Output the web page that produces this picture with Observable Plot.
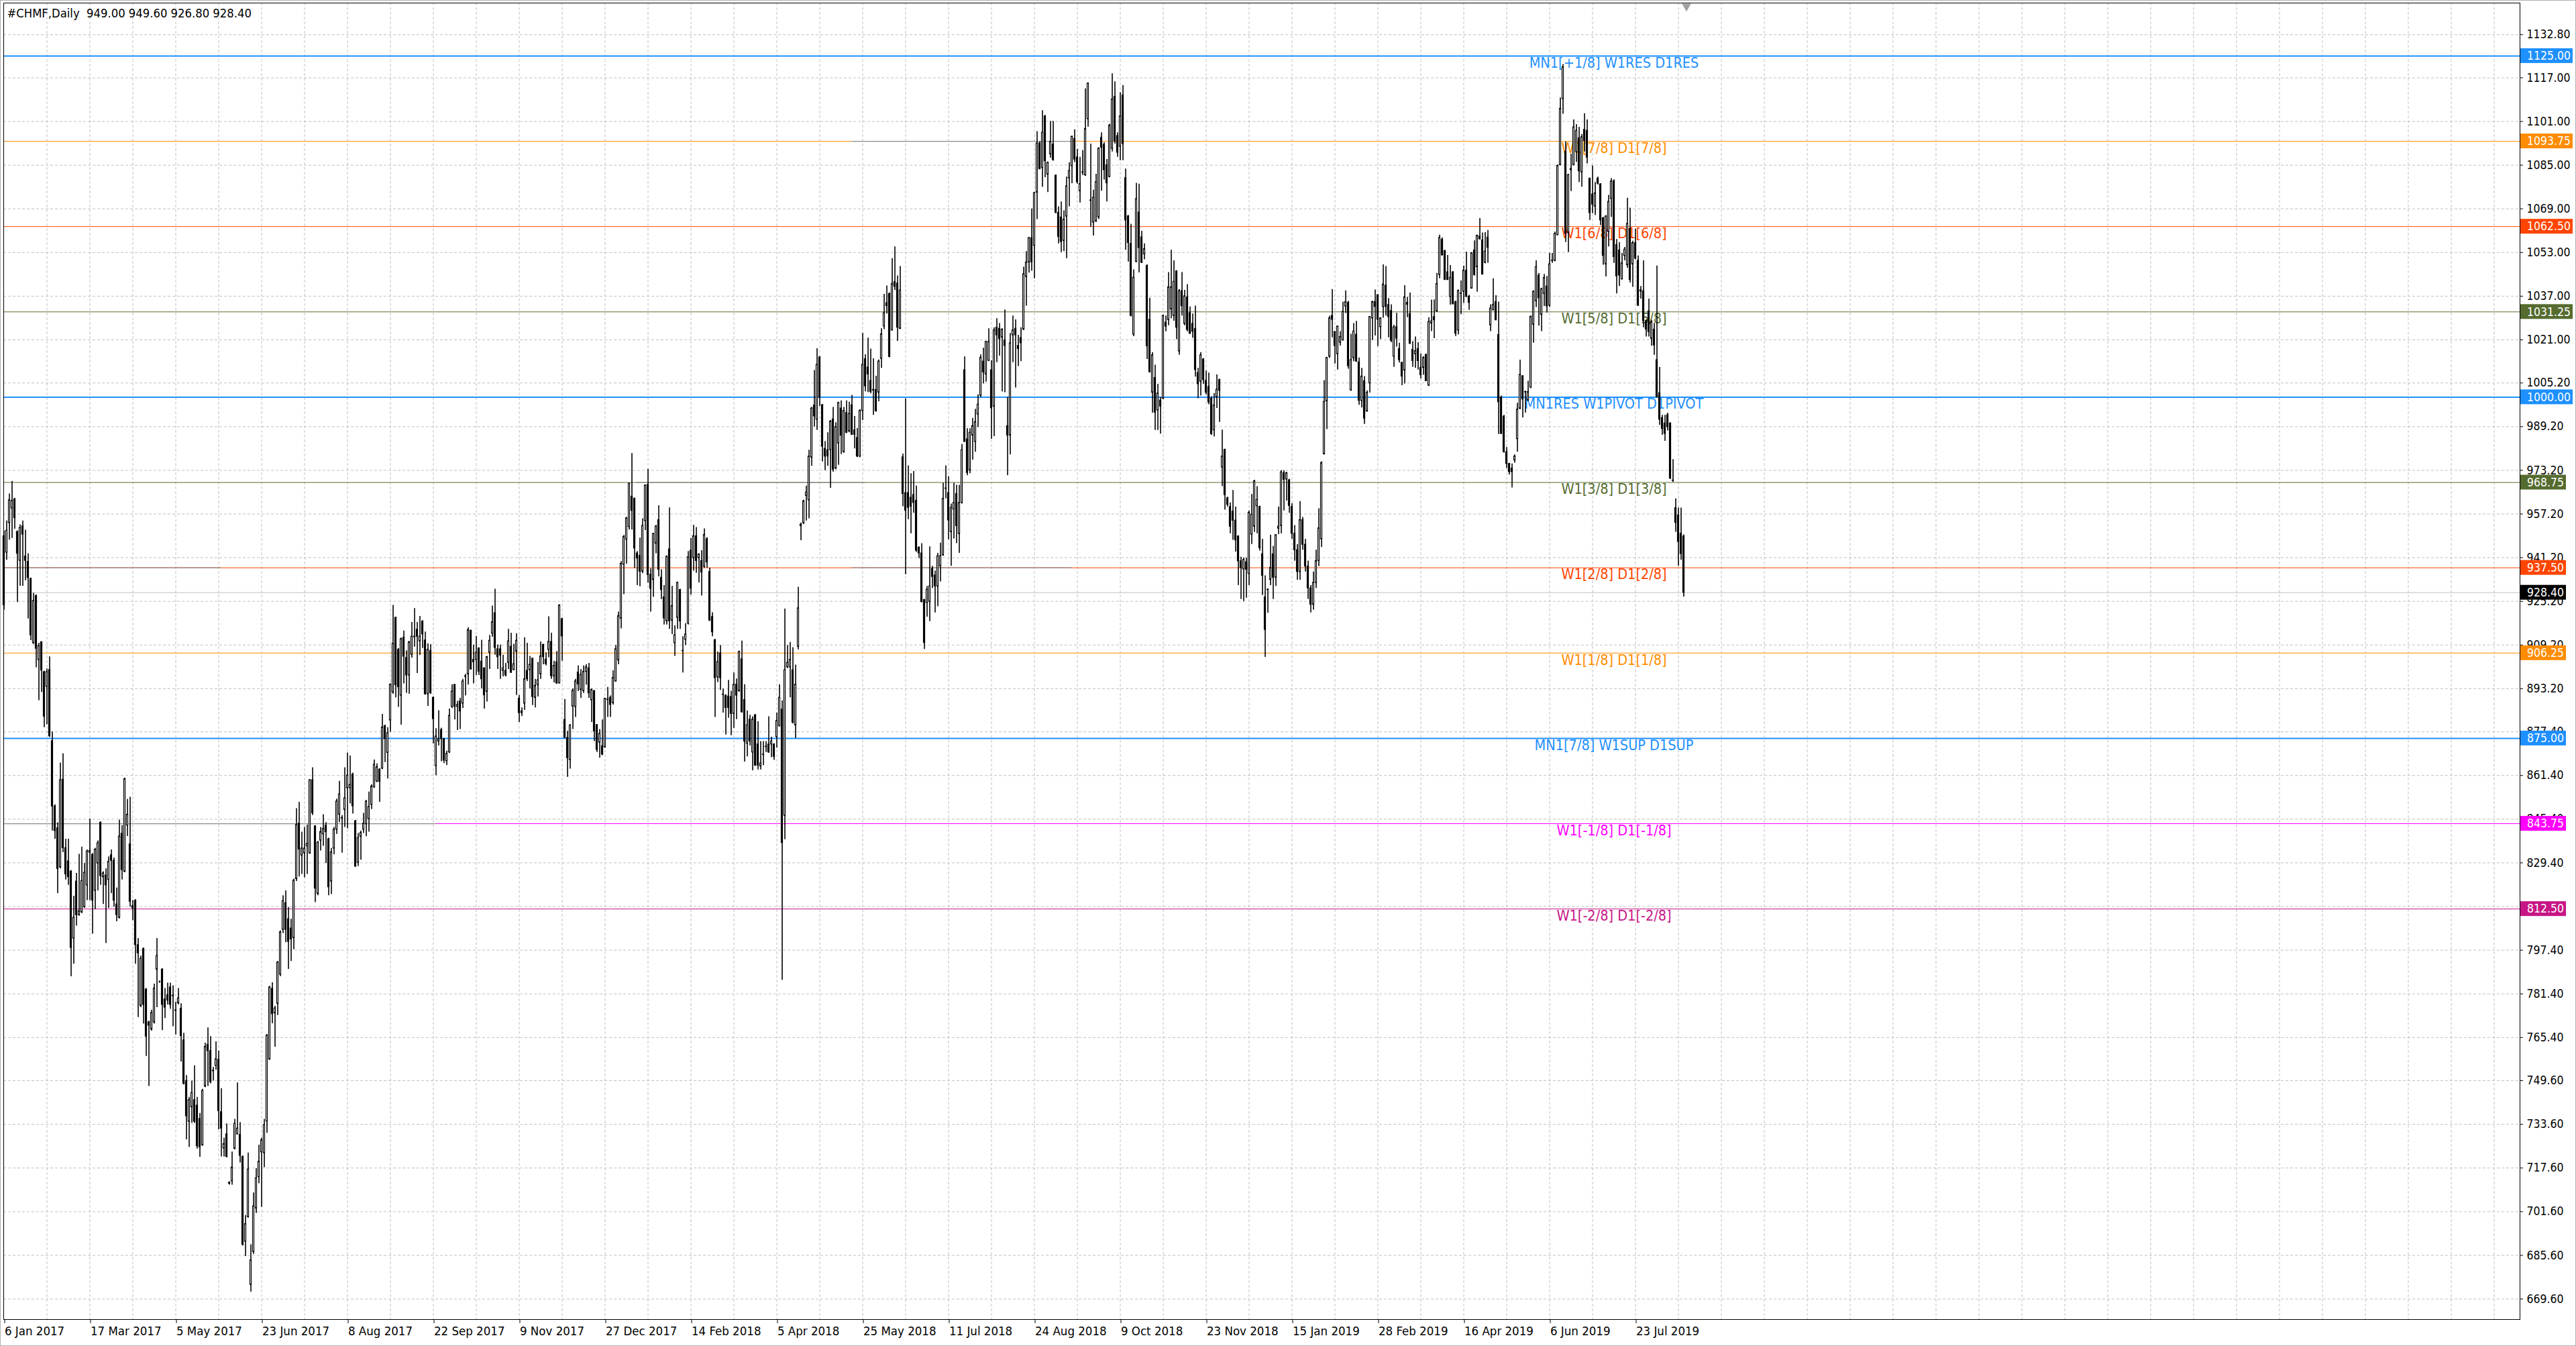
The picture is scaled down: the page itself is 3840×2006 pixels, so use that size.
<!DOCTYPE html>
<html><head><meta charset="utf-8">
<script src="https://cdn.jsdelivr.net/npm/d3@7"></script>
<script src="https://cdn.jsdelivr.net/npm/@observablehq/plot@0.6"></script>
<style>
html,body{margin:0;padding:0;background:#fff;overflow:hidden;}
#chart svg{display:block;outline:1px solid #b0b0b0;outline-offset:-1px;}
</style></head><body><div id="chart"></div>
<script>
const title = "#CHMF,Daily  949.00 949.60 926.80 928.40";

const opens = [949.1,943.1,953.9,959.3,962.6,950.7,940.1,952.7,941.7,939.7,
933.4,909.9,927.2,903.7,910.3,899.3,893.9,900.1,874,850.1,
842.1,827.8,859.9,834.8,830,826.2,801.7,822.6,810.3,811.3,
813.2,821.2,833.2,832.4,819.2,829.2,844.1,824.2,824.8,823.2,
832.2,830.2,814.2,809.3,840.1,826.2,843.1,836.2,813.6,815.6,
799.3,777,797.9,783,771,768.4,771,790.3,785.8,790.3,
779.4,781,783.8,780.8,775.4,778,776,764.4,749.5,734.6,
739.9,742.5,740.5,735.6,726,747.5,762.8,760.5,753.1,755.1,
757.3,738.1,724.8,730,712.2,712.8,724.7,730,729.8,721.7,
690.7,699.7,674.8,686.9,702.8,714.3,723.4,723.1,734.7,757.4,
783.3,774.3,777.8,788.5,804.9,814.7,808.8,805.4,801.9,823.5,
843.8,832.1,832.9,835.5,832.9,859.7,842.8,818.1,837.6,839.9,
843,838.1,822.6,834.7,841.6,847.1,845.9,848.8,856.8,856.8,
861.8,844.7,829.5,839,841.6,843.6,845.5,850.7,857.1,859.3,
863.6,864,879.5,869.7,881.6,891.9,919.2,907.5,890.7,911.9,
904.5,898.1,905.7,912.3,914.9,910.6,917.8,910.9,891.2,907.1,
889.9,864.9,873.9,878.1,874.8,866.7,869.9,886.6,894.6,886.6,
888.6,887.8,897.8,898.5,914.5,903.8,903.8,908,903.2,900.7,
892.1,906.4,913.4,920.9,907.7,907.7,899.8,899.8,902.7,908.6,
900.1,906.8,889.6,884.9,887.8,899.8,900,904.2,889.9,894.6,
898.5,909.3,903.9,907.5,910.4,897.8,902.9,895.2,918.7,881.8,
875.2,867.1,886.7,886.6,899.2,892.8,892.4,899.4,900.7,889,
892.4,879.9,873.5,872.2,871.7,889.3,889.9,888,895.9,903.6,
918.9,938.7,947.8,952.5,963.6,962.9,942.8,941.9,936.1,954.7,
967.9,935,933.1,946.4,955,933.9,926.7,917.9,944.3,918.2,
909.9,919.2,929.4,907,911.2,917.1,943.8,941.1,949.1,941.1,
940,937.9,948,936,919.5,911,897.4,906.2,891,890.7,
890.4,890.2,884,894.7,892.3,904,889.1,873.1,881.9,869.9,
883.5,872.8,864.8,869.1,872,872.8,872.8,872.8,875.5,879.5,
885.6,846.7,901.1,901.1,900,879.8,908.6,952.8,953.9,963.9,
962.3,977.9,997,991.8,1014.6,997.1,981.1,980.6,980.7,991.9,
973.9,983.1,995.9,979.9,994.3,987.5,997.1,987.9,985.1,978.3,
995,1014,1010.9,1006,1002.7,1002.7,1001.7,1014.1,1026,1034.5,
1037.9,1024.5,1042.2,1041.7,1025.1,978,964.9,964.9,963.2,964.2,
962.1,944.9,942.8,925.7,924.7,925,937.1,934.7,930.7,938.1,
942.1,966.6,964.9,950.6,958.9,964.6,949.9,961.3,1009.9,984.6,
973.2,986,983.7,993.7,1000.6,1013.1,1008.4,1013.4,1009.9,996.6,
1025.5,1025.1,1021.9,1020.8,989.4,986,1022.7,1025.1,1018.8,1021.7,
1024.8,1044.1,1049.4,1058.3,1055.5,1075,1093,1084,1102.9,1081.6,
1089,1092.6,1081.2,1067.6,1065.9,1057.3,1066.2,1080.2,1084.7,1094.7,
1087.9,1075.5,1082.4,1081.3,1101.9,1072.1,1064,1064.4,1065.9,1095.1,
1092.5,1085,1080.7,1091.1,1110.1,1095.7,1091.8,1110.6,1080.3,1066.3,
1056.2,1023,1049.6,1067.7,1058.6,1052.4,1048.1,1028.4,1001.7,1007.1,
995.2,998.8,999.5,1027.3,1028.3,1032.2,1029.8,1046.1,1016.8,1038.9,
1026.9,1036.6,1030.8,1026.9,1025,1008.9,1005.7,1013.9,1006,1003.8,
999.5,987.9,1000,1006.3,974.3,980.7,963,959.8,958.1,954.8,
949,939.9,937,939.6,935.3,949.7,952.6,960.1,959.8,942.5,
926.7,929.5,933.1,942.5,933.9,951.9,952.9,972.2,969.9,969.6,
959.8,950,944,936,955,946,938,930,924,932,
940,948,979.1,998.5,1014.9,1029.8,1023.9,1015.8,1020,1020.8,
1033.3,1034.6,1002.6,1014.3,1022.9,1012.8,998.7,1005.9,994.8,1005.1,
1028.9,1034.9,1037.4,1025.7,1033.1,1040.9,1033.8,1031.6,1014.9,1025.7,
1017.7,1012.6,1009.8,1034.6,1030.5,1017.4,1015.8,1017.7,1010.8,1010.8,
1015.5,1004.3,1027,1029.4,1031.5,1044.8,1057.7,1053.6,1045.8,1036.8,
1045.8,1034.9,1024.5,1038,1038.7,1046.4,1036.8,1039.8,1053.8,1047.7,
1058.9,1057.5,1049.3,1058.5,1026.4,1031.9,1034.9,1022.8,999.9,992.9,
979.9,975.6,973.9,976.9,984.7,995.8,1007.7,1001.9,998.8,1003.6,
1026.6,1035.2,1044.6,1030.2,1037.9,1040.6,1033.6,1050,1050,1059.4,
1085.1,1109.3,1089.9,1060.2,1083.2,1085.1,1089.9,1094.9,1082.4,1098,
1097.6,1080.1,1074.3,1069.9,1080.1,1078,1065.6,1048.7,1060.5,1072.7,
1079.1,1055.8,1053.8,1043.2,1051.8,1048.4,1061.6,1048.7,1056.5,1050,
1039.2,1038.9,1027.9,1031.5,1021.4,1024.8,1013.6,1001.5,992.4,990.4,
993.4,990.4,969.5,959.4,956.7,950,949];

const highs = [951,954.7,964.6,969.2,963,951,953.3,954.7,951.3,942.7,
933.8,928.2,927.6,909.9,910.3,899.7,900.5,904.9,877.4,850.7,
844.1,866,869.4,838.1,838.1,826.6,817.2,825.6,832.6,835.2,
829.2,834.2,845.5,832.8,834.8,837.5,844.5,826.2,827.2,831.6,
834.2,831.2,820.2,845.1,843.1,860.5,852.7,853.5,815.6,816,
801.7,795.3,798.3,783.4,771.4,775.4,785,801.7,786.2,790.7,
783.4,785.4,785.4,784.4,778.4,783.4,777.8,767,751.5,743.5,
749.5,755.1,743.5,737.6,746.5,763.4,769,765.8,754.5,763.9,
760.5,746.7,728.6,733.8,712.6,723.5,735.5,748.8,734.3,722.1,
700.2,723.1,689.5,708.5,717.4,726,728.6,735.5,766.6,784.2,
785.5,776.9,793.3,804.5,817.4,819.2,813.1,808.8,823.5,849.3,
851.6,840.7,842.4,843.3,860,864.3,843.1,837.3,842.4,847.1,
844.2,838.5,834.7,842.4,852.8,859.3,846.8,864.3,869.7,868.6,
862.3,845,840.2,841.1,847.6,852.3,855.4,858,867.1,865.7,
864,883.8,879.9,879,895,923.8,919.5,908,911.8,914.4,
907.1,910.6,917.5,922.6,917.5,919.7,918.2,914,909.7,909.4,
890.2,878.6,885.2,878.8,875,870.4,885.8,894.7,894.8,888.6,
889.7,896.7,898.5,915.6,914.6,909.2,912.4,908.2,911,900.9,
905.1,912.8,923.5,929.7,909.3,909.2,905.5,902.5,915,913.6,
909.5,913.4,890.8,886.2,911.9,909.9,905.1,904.5,896.7,902.9,
910.4,909.5,906.4,919.6,913.6,903.3,906.8,924,919.1,889.3,
877.6,880.1,893.2,896.7,901.6,900.3,901.6,902,902.5,893.2,
892.5,880.1,878.3,881.8,889.7,893.7,890.6,899.8,909,921.3,
939.8,949.4,956,968.6,979.4,963,943.5,948.4,955.5,967.9,
973.6,937.1,950.2,953.1,960.3,936.8,931,941.9,959.5,930.7,
916.3,932.3,929.7,912.3,917.1,943.5,948.3,953.1,952.3,942.7,
943.8,951.8,948.6,937.4,921.1,911.3,906.7,909.1,893.1,891,
896.3,892.3,899,896.8,907,910.7,894.7,885.1,883.5,883,
883.8,881.1,873.9,873.9,873.9,883,875.5,873.1,884.3,894.7,
888.8,922.4,909.1,910.2,908.3,901.9,930.4,953.9,962.3,967.5,
980.6,996.3,1009.8,1017.8,1014.9,997.4,983.8,987,991.5,996.3,
990.7,998.2,998.7,996.3,998.7,998.2,1000.7,993,988.6,995.5,
1023.4,1015.6,1021.7,1017.7,1014.1,1007.7,1013.7,1025.1,1037.7,1040.8,
1038.2,1050.8,1055.1,1044.5,1047.9,979.2,999.4,974.9,972,972.8,
967.5,945.2,946.4,926,930.7,945.2,938.1,936.4,942.8,946.6,
968.5,974.9,970.9,960.9,968.5,967.8,967.8,982.7,1014.8,988.5,
988.5,992.3,995.6,1000.9,1015.5,1018,1020.5,1025.1,1013.4,1025.5,
1028.8,1027,1025.1,1032,999.9,1023.4,1029.8,1028.4,1022.7,1025.5,
1047.7,1053.4,1058.6,1069,1075,1097.3,1093.6,1105,1103.3,1086.2,
1101.1,1101.1,1081.5,1069.8,1071.6,1068.3,1080.7,1085.9,1095.7,1098,
1090.8,1087.9,1090.4,1113,1115.2,1092.8,1075.9,1081.7,1091.4,1096.9,
1093.3,1087.1,1100,1118.5,1115.6,1096.9,1111.6,1114.2,1083.6,1066.6,
1063.4,1046.7,1078.4,1078.1,1060.8,1056.2,1048.5,1036.3,1016.4,1011.8,
1004.8,999.9,1030.1,1029.8,1045.7,1053.9,1050,1046.4,1039.5,1045.7,
1039.2,1041.3,1033.1,1030.5,1033.4,1010.6,1016.4,1014.2,1009.6,1008.9,
1000.2,1001.4,1008.2,1006.7,988,981,963.4,961.3,965.9,959.8,
949.3,941.4,941.1,941.1,958.4,964.4,969.6,967.3,960.1,948,
934.6,929.8,949.5,945.4,949.7,959.8,973.1,973.1,972.5,970,
961,953,946,961.8,956,948,940,931,936,944,
959.2,976.4,1006.1,1014.6,1029.7,1039.5,1024.1,1026.1,1024.1,1034.9,
1039,1035.2,1023.1,1027,1027.8,1014.4,1010.6,1007.6,1002.4,1029.6,
1035.2,1039.3,1037.6,1029.2,1048.5,1047.9,1036.2,1033.9,1026.4,1030.8,
1019.8,1012.8,1040.9,1036.6,1038.2,1020.4,1022.1,1020,1015.9,1014.9,
1015.9,1029.2,1035.6,1035.7,1045.4,1059.4,1058.4,1053.8,1052,1048.3,
1046,1035.2,1039.3,1042.6,1048.1,1053.2,1037.4,1053,1057.3,1059.4,
1065.5,1060.2,1060.3,1061.1,1033.9,1043.4,1037.2,1034.9,1000.5,993.4,
981.6,975.8,975.6,978.9,997.8,1013.6,1008,1002.3,1005.9,1029.8,
1039,1050,1045.4,1040,1045,1044.3,1052.7,1052.7,1060.5,1085.1,
1109.7,1121.9,1093.5,1081.7,1089.1,1101.6,1099.9,1098.9,1096.3,1103.9,
1101.6,1080.3,1084.8,1078.7,1080.7,1078.3,1065.9,1066.6,1074,1080.1,
1079.7,1057.8,1056.7,1052.7,1054.9,1072.9,1069.3,1057.2,1061.6,1051.8,
1040.6,1050,1028.4,1036,1028.2,1027.1,1048.1,1010.9,993.4,993.4,
994.2,990.7,977.2,962.8,959.4,959.4,949.6];

const lows = [922,940.3,947.7,948.3,951.7,924.8,930.8,930.8,932.8,918.8,
910.9,909.5,900.9,888.9,891.9,879,880,875.4,841.1,838.1,
818.2,827.2,833.2,823.2,821.2,787.7,792.3,806.3,809.9,810.9,
812.8,815.6,815.6,803.3,812.3,819.2,821.2,814.2,799.9,812.8,
818.2,813.2,807.9,808.9,823.2,825.8,839.1,813.2,808.3,792.3,
772.8,776.4,770.4,758.5,747.5,767.8,770.4,776.4,785.4,768,
772.4,777.4,775.8,769.4,766.4,777.4,756.5,748.1,728,725.2,
734,734,724.6,721.6,725.6,747.1,747.5,748.5,749.5,753.5,
731.6,721.7,721.7,721.4,711.4,711.4,724.3,729.8,719.5,689.1,
685.2,699.3,672.2,686,701,711.9,703.3,717.8,730.4,757.1,
770.5,761.9,773.5,787.8,803.6,800.2,790.4,793.3,797.6,822.6,
824.3,825.2,824,825.2,832.6,846.8,814.9,817.4,833.8,835.5,
829.2,817.4,817.8,832.4,839.9,844.2,833,842.4,841.9,851.1,
847.3,827.8,828.1,830.4,840.2,839,840.7,849,856.8,858.8,
851.6,863.6,866.2,860.2,877.3,891.2,889.9,886.4,879.9,895,
891.6,891.2,904.5,908.5,898.8,905.4,908,890.9,886.8,891.2,
873,861.4,872.3,866.5,865.8,865.1,869.5,886,881.8,877.9,
878.3,886,890.6,894.6,900.1,895,898.1,898.1,893.2,885.8,
888.4,900.3,912.1,905.5,900.3,896.7,897.6,897.6,900.3,898.9,
899.8,890.8,880.9,883.1,885.3,895.9,893.2,887.1,886.2,890.2,
896.7,902,901.6,904.6,896.7,895.4,894.8,895,903.3,875.1,
860.8,863.8,878.3,882.7,892.2,889.7,891.5,894.6,889.7,880.9,
873.9,869.9,867.8,868.7,871.5,882.7,882.7,887.3,895.7,902,
915.2,927.7,938.9,951.4,951.4,937.3,931,930.6,935.4,951.2,
931.9,921.3,926.7,942.7,934.2,925.9,916.6,916.6,915,913.1,
905.1,915,915,899,909.1,916.6,927.5,936.3,935.5,932,
927.2,937.4,937.4,917.9,912.3,882.7,895.5,892.6,884.3,876.3,
882.4,876,878.7,881.9,892,884.3,866.4,868.3,872.3,863.2,
864.8,863.5,863.5,865.1,869.9,869.6,868,867,871.5,879.2,
786.4,837.9,900.6,889.9,880.3,875,907.5,947.5,953.4,954.7,
955.5,974.7,989.1,987.9,996.6,976.3,973.1,974.7,966.7,972.6,
973.5,975.1,979,979.5,986.7,987,986,981.1,977.9,977.9,
991.5,1002,1001.7,1001.3,993.4,994.6,998.4,1010.6,1024.8,1030.5,
1014.5,1024.3,1039.1,1020.5,1024.8,959.9,935,955.2,950,957.5,
943.2,940.9,924.7,907.6,919.5,917.8,930,921,923.3,932.4,
941.8,962.8,947.8,938.1,948.1,946.4,942.8,960.9,983.5,971.3,
972,977,979.9,988.9,999.9,1004.9,1005.6,1013.1,984.6,985.6,
1012.7,1015.1,1002,1001.7,971.3,978.9,1012.7,1003.4,1011.3,1013.1,
1024.5,1033.4,1045.5,1046.2,1043.4,1065.1,1083.3,1076.9,1080.5,1075,
1087.6,1086.5,1067.3,1056.2,1053.1,1053.4,1050.8,1069.8,1078.3,1086,
1078.1,1071.2,1081.3,1081,1099,1062.3,1059.1,1064.1,1065.1,1075.5,
1079.6,1071.6,1080.4,1089.9,1092.8,1087.9,1086.7,1086.7,1053.9,1049.6,
1029.5,1022.2,1049.3,1045.6,1049,1050.4,1013.9,1008.9,994.2,987.9,
987.9,986.5,999.2,1024,1026.2,1028.8,1027.9,1021.1,1015.4,1029.8,
1026.2,1024,1023,1021.6,1007.4,999.5,1000.5,1004.8,1000.9,997.3,
986.1,985.5,995.9,990.8,967.3,958.7,959.8,950,947.6,943.3,
931,925.9,925.2,926.4,931,946.1,950.5,950,943.7,927.4,
904.7,920.9,931,925.9,930.7,949.7,950,958.4,962,957.5,
948,940,933,933,944,936,926,921,922,930,
938,945,978.9,988.2,1014.3,1021.8,1012.2,1010,1018.8,1020.7,
1030.7,1010.3,1002.2,1013.1,1012.8,997.1,996.1,990.1,994.6,1001.6,
1020.8,1022.5,1018.6,1021.2,1029,1029.8,1021.8,1020,1011,1018.4,
1012.6,1004.3,1004.9,1029.2,1019.4,1011,1010.6,1010,1006.7,1008.1,
1005.8,1004,1024.1,1021.5,1031.1,1043.4,1051.8,1042.8,1042.8,1033.8,
1033.9,1022.3,1022.9,1030.3,1034.4,1036.6,1031.9,1039.7,1044.4,1038.5,
1057.7,1044.8,1048.9,1049.1,1024.1,1031.7,1028.1,986.4,986.4,979.6,
973.9,971.5,966.8,975.9,979.9,995.5,992.4,994.2,998.5,1003.2,
1019.8,1032.9,1026.1,1024.1,1033.3,1030.9,1032.9,1049.1,1049.7,1059.2,
1084.8,1103.7,1056.7,1053.1,1075.4,1084.8,1086.1,1078.7,1077,1089.9,
1085.5,1064.8,1067.3,1066.6,1077.8,1062.9,1048.4,1044.1,1055.1,1065.9,
1049.1,1037.9,1040.6,1043,1050,1047.3,1041.9,1040.3,1050.4,1033.3,
1036,1025.5,1022.1,1022.1,1018.7,1015.4,999.8,989.7,986.1,983.9,
987.7,969.9,968.8,950.6,938.1,940.3,926.8];

const closes = [923.8,951.1,962.3,962.1,955.7,942.7,952.1,949.7,940.1,933.8,
912.8,925.4,907.9,908.9,899.9,883,899.3,875.8,850.1,841.1,
827.2,859.7,834.8,825.2,824.2,798.3,809.3,810.3,811.7,822.8,
825.8,833.6,833.8,815.6,834.2,836.6,824.6,825.6,821.2,829.8,
830.2,815.6,810.3,839.1,826.8,860.1,847.1,815.2,812.8,799.3,
796.3,794.3,777.4,765.8,769.8,774.4,783.4,795.3,785.8,777.4,
776.4,779,777.4,780.6,775.2,779.8,766,748.5,736.6,742.5,
745.1,734.6,725.6,725.2,745.9,762,760.5,749.1,753.3,757.5,
738.5,732.1,726.4,721.7,711.9,717.8,733.8,732.1,722.1,689.5,
697.1,717.1,683.8,703.6,713.9,720,727.8,733.3,766.1,783.8,
774,776.1,792.9,804,815.4,804.9,800.5,801.4,822.9,843.3,
834.3,834.7,834.7,836.4,859.7,847.6,820,836.8,840.7,841.9,
840.7,820.5,833.3,841.6,851.9,854.5,845.7,853.1,861.4,858,
850.2,828.1,838.5,840.4,843.8,851.9,849.9,857.4,865.4,864.5,
859.1,879,874.9,876.9,894.7,909.7,894.5,893.8,911.4,905,
898.1,910.2,912.3,912.1,912.3,912.3,913.1,891.2,907.5,891.6,
882.1,875.7,874.8,874.8,866.9,869.4,883.3,892.2,886.6,887.3,
884.9,895.9,897.6,914.7,900.3,902.9,906.4,899.5,896.7,890.8,
904.8,910.8,917.6,908.2,904.8,905.4,900.7,898.1,910.6,899.1,
902.2,910.8,884.3,884.3,896.7,896.7,902,890.2,894.3,896.3,
905.1,904.8,902.3,910.4,897.8,901.6,895.2,923.7,912.4,875.2,
867.8,879.8,892.5,895.9,894.8,898.3,899.4,901.1,891.5,892.8,
877.6,870.8,876.7,869.1,889.6,889.1,887.3,897.2,907.7,919.8,
939,948.8,955.7,968.3,958.4,944.6,940.9,936.1,952.9,967.7,
934.9,929.8,949.9,952.6,936.8,929.4,919,941.6,917.9,923.5,
912.8,932,917.9,907.1,913.1,941.4,929.9,949.1,940,942.4,
935.8,949.6,939.5,918.2,913.9,897.1,903,897.1,891.1,886.2,
886.2,884,894.7,890.7,906.7,884.6,873.9,879.8,873.9,881.9,
865.1,865.1,865.9,869,871.9,869.9,873.9,868.3,881.4,889.9,
836.7,900,902.7,903.8,880.8,894.7,922.7,953.4,961.9,965.1,
978.3,995.9,993,1011.9,999.9,981.9,978.3,978.3,991.1,973.5,
989.1,997.9,985.9,995,987,993.9,986.3,986.3,978.3,995,
1011.9,1004,1008.4,1002,1002.5,994.9,1013.1,1023.1,1030.8,1033.4,
1014.8,1041.5,1040.5,1025.5,1039.1,964.6,958.5,959.5,959.9,961.3,
943.8,942.8,925,910,929.5,930.7,934.2,930.7,941.8,941.8,
962.8,966.5,954.9,959.5,961.3,952.8,961.3,980.6,983.7,972.3,
987,989.4,990.9,997.3,1014.5,1009.1,1020.3,1020.3,996,1024.5,
1022.7,1021.3,1024.8,1018.8,986,1019.8,1024.5,1022.7,1017.7,1019.8,
1045.1,1049.4,1058.3,1049.4,1074.8,1093,1083.6,1096.9,1086.5,1085.9,
1093.6,1086.9,1067.6,1058.8,1056.9,1065.1,1077.3,1082.9,1095.4,1087.1,
1078.8,1078.1,1082.3,1098.3,1114.9,1072,1073.1,1078.8,1091.1,1091.4,
1083.2,1078.4,1099.5,1109.1,1093.7,1089.6,1102.9,1092.8,1064.8,1056.5,
1029.8,1043.8,1072.6,1054.7,1049.3,1054.3,1018.7,1009.2,1015.4,994.4,
1001.4,996.6,1029.8,1025.9,1040.3,1040.3,1042.3,1025.5,1038.9,1033.4,
1037,1024.7,1023.3,1024,1010,1004.8,1015.4,1006.3,1001.7,998.1,
986.5,997,1002.8,1002.4,978.3,964.2,960.6,952.6,954.8,947.6,
939.9,937.5,940.4,936.8,957.7,957,969.2,962.4,944.7,934.6,
914.8,929.4,937.5,933.9,949.5,952.6,972.5,969.8,972.2,960.2,
950,944,936,955,946,938,930,924,932,940,
952,975.9,998.3,1014.4,1028.9,1028.4,1018.8,1025.9,1022.1,1031.3,
1034.9,1011.4,1013.6,1024.1,1013.1,998.7,1007.6,992.2,1001.6,1029.4,
1034.9,1033.1,1028.4,1028.9,1041.3,1033.1,1029.4,1020.7,1025.6,1021.5,
1013.6,1007.6,1036.6,1033.9,1019.6,1013.3,1016.9,1013.3,1008.1,1014.4,
1005.9,1027.6,1027.8,1028.2,1041.5,1058.4,1052,1043,1043,1043.8,
1034.1,1023.3,1039,1037.9,1046.4,1036.8,1034.6,1052.8,1044.8,1059.2,
1057.9,1045,1053.4,1054.8,1032.5,1033.8,1028.2,998.2,986.6,979.9,
975.6,972.6,972.6,978.3,995.5,1008.2,999.2,1001.8,1001.9,1029.5,
1038.7,1047.7,1036.3,1039.6,1043.7,1033.3,1048.7,1050.1,1059.9,1084.8,
1105.7,1120.9,1059.9,1081.4,1083.7,1098.9,1097.6,1082.8,1095.3,1093.9,
1087.8,1067.5,1070.6,1074.7,1078.3,1064.8,1051.8,1066.2,1071.6,1079.1,
1051.4,1044.3,1044.6,1049.1,1054.1,1063.5,1043,1056.5,1050.8,1033.6,
1038.7,1027.9,1024.8,1023.9,1027.5,1019,1000.1,991.8,988.4,986.6,
989.1,970.2,969.4,954,947,942.6,928.4];

const yTicks = [1132.8,1117.0,1101.0,1085.0,1069.0,1053.0,1037.0,1021.0,1005.2,989.2,973.2,957.2,941.2,925.2,909.2,893.2,877.4,861.4,845.4,829.4,813.4,797.4,781.4,765.4,749.6,733.6,717.6,701.6,685.6,669.6];

const dateLabels = ["6 Jan 2017","17 Mar 2017","5 May 2017","23 Jun 2017","8 Aug 2017","22 Sep 2017","9 Nov 2017","27 Dec 2017","14 Feb 2018","5 Apr 2018","25 May 2018","11 Jul 2018","24 Aug 2018","9 Oct 2018","23 Nov 2018","15 Jan 2019","28 Feb 2019","16 Apr 2019","6 Jun 2019","23 Jul 2019"];

const levelPrices = [1125, 1093.75, 1062.5, 1031.25, 1000, 968.75, 937.5, 906.25, 875, 843.75, 812.5];
const levelNames = ["MN1[+1/8] W1RES D1RES","W1[7/8] D1[7/8]","W1[6/8] D1[6/8]","W1[5/8] D1[5/8]","MN1RES W1PIVOT D1PIVOT","W1[3/8] D1[3/8]","W1[2/8] D1[2/8]","W1[1/8] D1[1/8]","MN1[7/8] W1SUP D1SUP","W1[-1/8] D1[-1/8]","W1[-2/8] D1[-2/8]"];
const levelColors = ["#1E90FF","#FF8C00","#FF4500","#556B2F","#1E90FF","#556B2F","#FF4500","#FF8C00","#1E90FF","#FF00FF","#C71585"];
const lastPrice = 928.40;

// stretches (in bars) where a level is overdrawn by an older grey level line
const greyPrices = [937.5, 937.5, 843.75, 968.75, 1093.75];
const greyFrom   = [0, 316, 0, 236, 316];
const greyTo     = [81, 398, 161, 321, 398];

// ---- layout ----
const W = 3840, H = 2006, mL = 5, mR = 84, mT = 4, mB = 40;
const barPx = 4, firstBarPx = 5.5, labelEvery = 32, gridEvery = 16;
const FONT = "'Liberation Sans Narrow','DejaVu Sans Condensed','Liberation Sans',sans-serif";
const BLUE = "#1E90FF";
const AXIS_FS = 17.5;

const bars = closes.map((c, i) => ({i, o: opens[i], h: highs[i], l: lows[i], c}));
const dojis = bars.filter(d => d.o === d.c);
const levels = levelPrices.map((p, k) => ({p, name: levelNames[k], color: levelColors[k]}));
const greys = greyPrices.map((p, k) => ({p, a: greyFrom[k], b: greyTo[k]}));
const xDomain = [(mL - firstBarPx) / barPx, (W - mR - firstBarPx) / barPx];
const labelBars = dateLabels.map((_, k) => k * labelEvery);
const labelMap = new Map(labelBars.map((b, k) => [b, dateLabels[k]]));
const gridBars = d3.range(gridEvery, xDomain[1], gridEvery);
const levelLabelBar = closes.length - 27;

function priceBoxes(index, scales, values, dimensions) {
  const g = d3.create("svg:g");
  const x0 = dimensions.width - dimensions.marginRight + 1;
  const boxes = levels.map(d => ({p: d.p, color: d.color})).concat([{p: lastPrice, color: "#000000"}]);
  for (const b of boxes) {
    const y = scales.y(b.p);
    const label = b.p.toFixed(2);
    const w = label.length * 10 + 8;
    g.append("rect").attr("x", x0).attr("y", y - 11).attr("width", w).attr("height", 22).attr("fill", b.color);
    g.append("text").attr("x", x0 + 10).attr("y", y).attr("dy", "0.36em")
      .attr("text-anchor", "start")
      .attr("fill", "#ffffff").attr("font-family", FONT).attr("font-size", AXIS_FS).text(label);
  }
  return g.node();
}

const chart = Plot.plot({
  width: W, height: H,
  marginLeft: mL, marginRight: mR, marginTop: mT, marginBottom: mB,
  style: {background: "#ffffff", fontFamily: FONT, fontSize: AXIS_FS + "px", color: "#000"},
  x: {type: "linear", domain: xDomain, axis: null},
  y: {type: "linear", domain: [662.1, 1144.4], axis: null},
  color: {type: "identity"},
  marks: [
    Plot.gridY(yTicks, {stroke: "#c0c0c0", strokeOpacity: 1, strokeDasharray: "4,3"}),
    Plot.gridX(gridBars, {stroke: "#c0c0c0", strokeOpacity: 1, strokeDasharray: "4,3"}),
    Plot.ruleY([lastPrice], {stroke: "#c0c0c0", strokeWidth: 1}),
    Plot.ruleY(levels, {y: "p", stroke: "color", strokeWidth: d => d.color === BLUE ? 2 : 1}),
    Plot.ruleY(greys, {y: "p", x1: "a", x2: "b", stroke: "#8c8c8c", strokeWidth: 1.2}),
    Plot.text(levels, {x: () => levelLabelBar, y: "p", text: "name", fill: "color", lineAnchor: "top", dy: 2, fontSize: 21.5, fontFamily: FONT}),
    Plot.ruleX(bars, {x: "i", y1: "l", y2: "h", stroke: "#000", strokeWidth: 1.6}),
    Plot.rect(bars, {x1: d => d.i - 0.25, x2: d => d.i + 0.25, y1: "o", y2: "c",
      fill: d => d.c >= d.o ? "#ffffff" : "#000000", stroke: "#000", strokeWidth: 1.2}),
    Plot.ruleY(dojis, {y: "o", x1: d => d.i - 0.3, x2: d => d.i + 0.3, stroke: "#000", strokeWidth: 1.2}),
    Plot.frame({stroke: "#000"}),
    Plot.axisY(yTicks, {anchor: "right", tickSize: 4, tickPadding: 6, tickFormat: d => d.toFixed(2), fontSize: AXIS_FS, fontFamily: FONT}),
    Plot.axisX(labelBars, {anchor: "bottom", tickSize: 6, tickPadding: 4, tickFormat: d => labelMap.get(d), textAnchor: "start", dx: 1, fontSize: 18.5, fontFamily: FONT}),
    priceBoxes,
    Plot.text([title], {frameAnchor: "top-left", dx: 5, dy: 8, lineAnchor: "top", textAnchor: "start", fontSize: 18.3, fontFamily: FONT, fill: "#000"}),
    Plot.dot([closes.length], {x: d => d, frameAnchor: "top", dy: 5, symbol: "triangle", rotate: 180, r: 5, fill: "#a0a0a0", stroke: "none"})
  ]
});
document.getElementById("chart").append(chart);
</script></body></html>
